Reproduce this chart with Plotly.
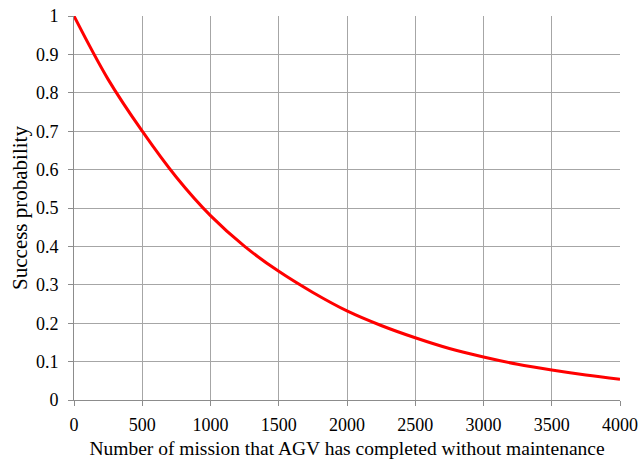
import plotly.graph_objects as go

missions = [0, 250, 500, 750, 1000, 1250, 1500, 1750, 2000, 2250, 2500, 2750, 3000, 3250, 3500, 3750, 4000]
success = [1.0, 0.835, 0.70, 0.58, 0.48, 0.40, 0.335, 0.28, 0.232, 0.194, 0.162, 0.134, 0.112, 0.093, 0.078, 0.065, 0.054]

x_ticks = [0, 500, 1000, 1500, 2000, 2500, 3000, 3500, 4000]
y_ticks = [0, 0.1, 0.2, 0.3, 0.4, 0.5, 0.6, 0.7, 0.8, 0.9, 1]
y_labels = ["0", "0.1", "0.2", "0.3", "0.4", "0.5", "0.6", "0.7", "0.8", "0.9", "1"]

fig = go.Figure()
fig.add_trace(go.Scatter(x=missions, y=success, mode="lines",
                         line=dict(color="#ff0000", width=3, shape="spline"),
                         showlegend=False))

fam = "Liberation Serif, Times New Roman, serif"
fig.update_layout(
    width=640, height=461,
    margin=dict(l=74, r=20, t=16, b=61),
    paper_bgcolor="white", plot_bgcolor="white",
    font=dict(family=fam, size=18, color="#000000"),
    xaxis=dict(range=[0, 4000], tickvals=x_ticks, ticks="outside", ticklen=5,
               tickcolor="#8c8c8c", showgrid=True, gridcolor="#a6a6a6", gridwidth=1,
               showline=True, linecolor="#8c8c8c", linewidth=1, zeroline=False,
               automargin=False, ticklabelstandoff=3,
               title=dict(text="Number of mission that AGV has completed without maintenance",
                          font=dict(size=19.5, family=fam), standoff=7),
               tickfont=dict(size=18, family=fam)),
    yaxis=dict(range=[0, 1], tickvals=y_ticks, ticktext=y_labels, ticks="outside", ticklen=5,
               tickcolor="#8c8c8c", showgrid=True, gridcolor="#a6a6a6", gridwidth=1,
               showline=True, linecolor="#8c8c8c", linewidth=1, zeroline=False,
               automargin=False, ticklabelstandoff=6,
               title=dict(text="Success probability", font=dict(size=21, family=fam), standoff=2),
               tickfont=dict(size=18, family=fam)),
)
fig.write_html("out.html", config={"displayModeBar": False},
               post_script="document.body.style.margin='0';document.body.style.overflow='hidden';")
